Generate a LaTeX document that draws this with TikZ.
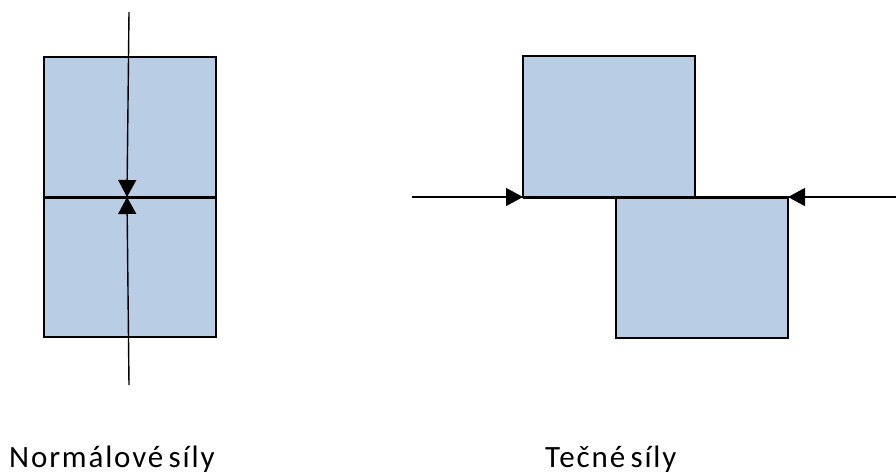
\documentclass[tikz,border=0pt]{standalone}
\usepackage{fontspec}
\setmainfont{Carlito}
\newfontfamily\captionfont[LetterSpace=6,WordSpace=0.6]{Carlito}
\usetikzlibrary{arrows.meta}
\definecolor{blockfill}{HTML}{B9CDE5}
\begin{document}
\begin{tikzpicture}[x=1pt,y=-1pt,
  block/.style={draw=black,line width=2pt,fill=blockfill,inner sep=0pt,outer sep=0pt,
    minimum width=172pt,minimum height=140pt,anchor=north west},
  force/.style={line width=1.4pt,-{Triangle[length=17pt,width=18pt]}},
  caption/.style={font=\captionfont\fontsize{31}{36}\selectfont,inner sep=0pt,anchor=base west}]
\useasboundingbox (0,0) rectangle (896,475);
% normal forces: two stacked blocks
\node[block] (a1) at (44,57) {};
\node[block] (a2) at (44,197) {};
\draw[line width=3pt] (a1.south west) -- (a1.south east);
\coordinate (ntop) at (129,12);
\coordinate (nbot) at (129,385);
\coordinate (nmid) at (127,197);
\draw[force] (ntop) -- (nmid);
\draw[force] (nbot) -- (nmid);
% tangential forces: two offset blocks
\node[block,minimum height=141pt] (b1) at (523,56) {};
\node[block,minimum height=141pt] (b2) at (616,197) {};
\draw[line width=3pt] (b1.south west) -- (b2.north east);
\coordinate (tleft) at (412,197);
\coordinate (tright) at (896,197);
\draw[force] (tleft) -- (b1.south west);
\draw[force] (tright) -- (b2.north east);
% captions
\node[caption] (c1) at (9,467) {Normálové síly};
\node[caption] (c2) at (545,467) {Tečné síly};
\end{tikzpicture}
\end{document}
